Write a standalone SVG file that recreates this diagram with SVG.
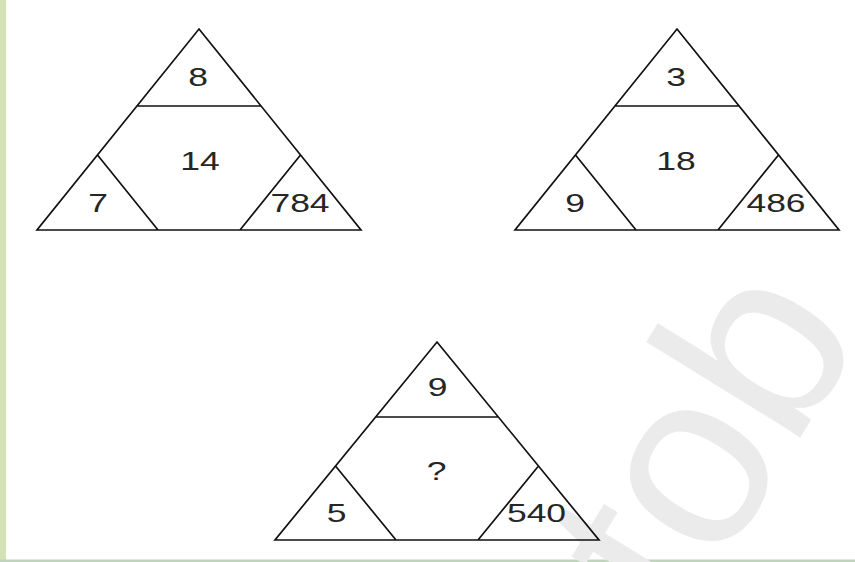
<svg xmlns="http://www.w3.org/2000/svg" width="855" height="562" viewBox="0 0 855 562">
  <style>
    .edge { stroke: #111; stroke-width: 1.7; fill: none; stroke-linejoin: miter; }
    .lbl { font-family: "Liberation Sans", Arial, sans-serif; font-size: 25px; fill: #262626; text-anchor: middle; }
    .wm { font-family: "Liberation Sans", Arial, sans-serif; font-size: 250px; fill: #ebebeb; }
  </style>
  <rect x="0" y="0" width="855" height="562" fill="#ffffff"/>
  <rect x="0" y="0" width="6" height="562" fill="#d4e3b6"/>
  <rect x="0" y="559.5" width="855" height="2.5" fill="#c0d3bd"/>

  <text class="wm" transform="translate(682,629) rotate(-58.3)">tob</text>

  <g id="triangle-1">
    <path class="edge" d="M199,29 L361,230 L37,230 Z M137,106 L261,106 M97.5,155 L158,230 M300.5,155 L240,230"/>
    <text class="lbl" transform="translate(198,86) scale(1.42,1)">8</text>
    <text class="lbl" transform="translate(200,170) scale(1.42,1)">14</text>
    <text class="lbl" transform="translate(98,212) scale(1.42,1)">7</text>
    <text class="lbl" transform="translate(300,212) scale(1.42,1)">784</text>
  </g>

  <g id="triangle-2">
    <path class="edge" d="M677,29 L839,230 L515,230 Z M615,106 L739,106 M575.5,155 L636,230 M778.5,155 L718,230"/>
    <text class="lbl" transform="translate(676,86) scale(1.42,1)">3</text>
    <text class="lbl" transform="translate(676,170) scale(1.42,1)">18</text>
    <text class="lbl" transform="translate(575,212) scale(1.42,1)">9</text>
    <text class="lbl" transform="translate(776,212) scale(1.42,1)">486</text>
  </g>

  <g id="triangle-3">
    <path class="edge" d="M437,342 L599,540 L275,540 Z M375.6,417 L498.4,417 M335.5,466 L396,540 M538.5,466 L478,540"/>
    <text class="lbl" transform="translate(437.5,396) scale(1.42,1)">9</text>
    <text class="lbl" transform="translate(436.5,480) scale(1.42,1)">?</text>
    <text class="lbl" transform="translate(336.5,522) scale(1.42,1)">5</text>
    <text class="lbl" transform="translate(536.5,522) scale(1.42,1)">540</text>
  </g>

  <g id="connectors"></g>
</svg>
